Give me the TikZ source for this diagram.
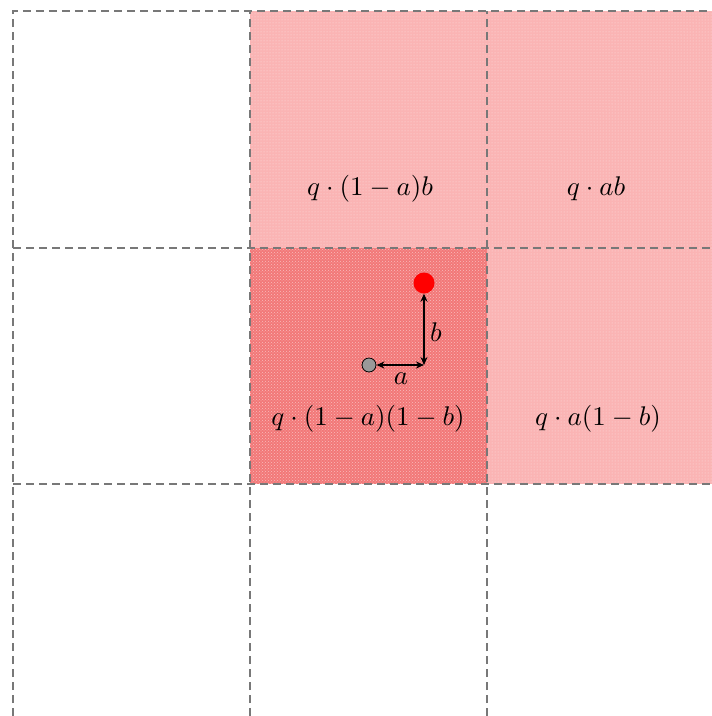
\documentclass[tikz,border=0pt]{standalone}
\usetikzlibrary{patterns,arrows.meta}
\definecolor{cellA}{RGB}{242,120,120}
\definecolor{cellB}{RGB}{250,180,180}
\definecolor{gridgray}{RGB}{120,120,120}
\tikzset{
  gridline/.style={draw=gridgray, line width=1.5pt, dash pattern=on 8pt off 5pt},
  densecell/.style={fill=cellA},
  lightcell/.style={fill=cellB},
  lbl/.style={inner sep=0pt, scale=2.7},
  dimarrow/.style={{Stealth[length=8pt,width=7pt]}-{Stealth[length=8pt,width=7pt]}, line width=1.8pt, black},
}
\begin{document}
\begin{tikzpicture}[x=1pt,y=-1pt]
\useasboundingbox (0,0) rectangle (712,716);
% cells
\fill[lightcell] (250,11) rectangle (487,248);
\fill[lightcell] (487,11) rectangle (712,248);
\fill[densecell] (250,248) rectangle (487,484);
\fill[lightcell] (487,248) rectangle (712,484);
\fill[pattern=crosshatch dots, pattern color=white!100, opacity=0.5] (250,248) rectangle (487,484);
\fill[pattern=dots, pattern color=white, opacity=0.6] (250,11) rectangle (712,248);
\fill[pattern=dots, pattern color=white, opacity=0.6] (487,248) rectangle (712,484);
% grid
\draw[gridline] (13,716) -- (13,11) -- (712,11);
\draw[gridline] (250,716) -- (250,11);
\draw[gridline] (487,716) -- (487,11);
\draw[gridline] (13,248) -- (712,248);
\draw[gridline] (13,484) -- (712,484);
% labels
\node[lbl] (l1) at (370,189) {$q\cdot(1-a)b$};
\node[lbl] (l2) at (596,189) {$q\cdot ab$};
\node[lbl] (l3) at (368,419) {$q\cdot(1-a)(1-b)$};
\node[lbl] (l4) at (598,419) {$q\cdot a(1-b)$};
% points
\node[circle, fill=red, minimum size=21pt, inner sep=0pt] (red) at (424,283) {};
\node[circle, fill=gray!80, draw=black, line width=0.8pt, minimum size=14pt, inner sep=0pt] (gry) at (369,365) {};
\coordinate (corner) at (424,365);
\draw[dimarrow] (gry) -- (corner);
\draw[dimarrow] (corner) -- (red);
\node[lbl] (la) at (401,379) {$a$};
\node[lbl] (lb) at (436,332) {$b$};
\end{tikzpicture}
\end{document}
